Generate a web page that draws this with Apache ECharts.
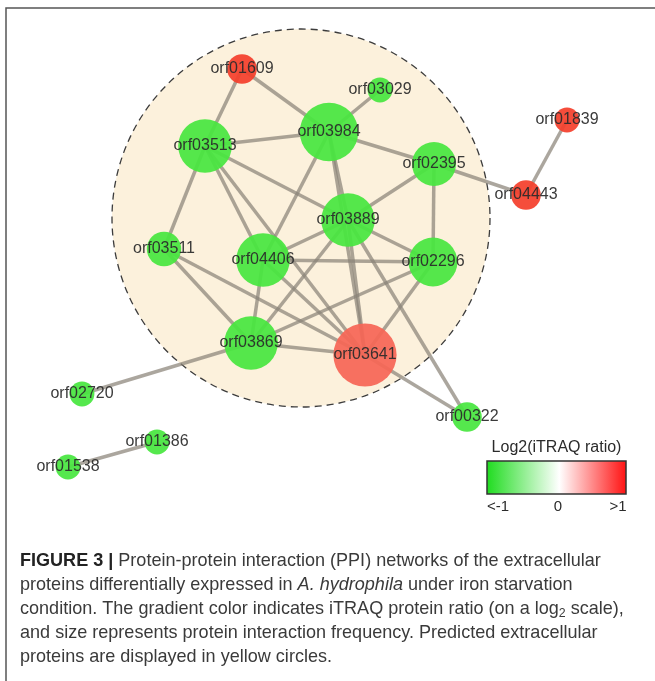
<!DOCTYPE html>
<html>
<head>
<meta charset="utf-8">
<script src="https://cdn.jsdelivr.net/npm/echarts@6/dist/echarts.min.js"></script>
<style>
html,body{margin:0;padding:0;background:#fff;}
#chart{width:655px;height:681px;}
</style>
</head>
<body>
<div id="chart"></div>
<script>
// ---- data ----
const nodeNames = ['orf01609','orf03029','orf03984','orf03513','orf02395','orf01839','orf04443','orf03889','orf03511','orf04406','orf02296','orf03869','orf03641','orf02720','orf00322','orf01386','orf01538'];
// layout coordinates of the network (data space of the hidden axes)
const nodeX = [242,380,329,205,434,567,526,348,164,263,433,251,365,82,467,157,68];
const nodeY = [69,90,132,146,164,120,195,220,249,260,262,343,355,394,417,442,467];
// log2(iTRAQ ratio)
const log2Ratio = [1.5,-1.5,-1.5,-1.5,-1.5,1.5,1.5,-1.5,-1.5,-1.5,-1.5,-1.5,0.8,-1.5,-1.5,-1.5,-1.5];
// interaction frequency (node size)
const frequency = [2,1,8,7,5,1,2,7,3,7,6,7,9,1,2,1,1];
const edges = [
  ['orf01609','orf03513'],['orf01609','orf03984'],['orf03029','orf03984'],
  ['orf03984','orf03513'],['orf03984','orf02395'],['orf03984','orf03889'],
  ['orf03984','orf04406'],['orf03984','orf03641'],
  ['orf03513','orf03511'],['orf03513','orf03889'],['orf03513','orf04406'],['orf03513','orf03641'],
  ['orf02395','orf04443'],['orf02395','orf03889'],['orf02395','orf02296'],
  ['orf01839','orf04443'],
  ['orf03889','orf04406'],['orf03889','orf02296'],['orf03889','orf03869'],['orf03889','orf03641'],['orf03889','orf00322'],
  ['orf03511','orf03641'],['orf03511','orf03869'],
  ['orf04406','orf02296'],['orf04406','orf03869'],['orf04406','orf03641'],
  ['orf02296','orf03869'],['orf02296','orf03641'],
  ['orf03869','orf03641'],['orf03869','orf02720'],
  ['orf03641','orf00322'],
  ['orf01386','orf01538']
];
// predicted extracellular region (center x, center y, radius) in data space
const extracellularCircle = [[301,218,189]];
const legendTitle = 'Log2(iTRAQ ratio)';
const legendTicks = ['<-1','0','>1'];
const captionLines = [
  '{b|FIGURE 3 |} Protein-protein interaction (PPI) networks of the extracellular',
  'proteins differentially expressed in {i|A. hydrophila} under iron starvation',
  'condition. The gradient color indicates iTRAQ protein ratio (on a log{s|2} scale),',
  'and size represents protein interaction frequency. Predicted extracellular',
  'proteins are displayed in yellow circles.'
];

// ---- styles ----
const nodeColors = ['#48e640','#ffffff','#f4402c'];
const legendColors = ['#1edc1e','#ffffff','#ff1010'];
const labelFont = '"Liberation Sans", Arial, sans-serif';

const chart = echarts.init(document.getElementById('chart'), null, {renderer:'canvas'});

function colorFor(v){
  const t = (Math.max(-1, Math.min(1, v)) + 1) / 2;
  return echarts.color.lerp(t, nodeColors);
}

const nodes = nodeNames.map((n,i)=>({
  name: n,
  value: [nodeX[i], nodeY[i]],
  symbolSize: 20 + 4.8 * frequency[i],
  itemStyle: {color: colorFor(log2Ratio[i]), opacity: 0.93}
}));
const links = edges.map(e=>({source:e[0], target:e[1]}));

const legendX0 = 487, legendX1 = 626, legendY = 461, legendH = 33;

const graphics = [
  {type:'polyline', shape:{points:[[6,681],[6,8],[655,8]]}, style:{stroke:'#555', lineWidth:1.5, fill:null}, silent:true},
  {type:'text', x:(legendX0+legendX1)/2, y:448, style:{text:legendTitle, font:'16px '+labelFont, fill:'#2b2b2b', textAlign:'center', textVerticalAlign:'middle'}},
  {type:'rect', shape:{x:legendX0, y:legendY, width:legendX1-legendX0, height:legendH},
    style:{fill:new echarts.graphic.LinearGradient(0,0,1,0,[
      {offset:0,color:legendColors[0]},{offset:0.52,color:legendColors[1]},{offset:1,color:legendColors[2]}]),
      stroke:'#333', lineWidth:1.5}},
  {type:'text', x:498, y:507, style:{text:legendTicks[0], font:'15px '+labelFont, fill:'#2b2b2b', textAlign:'center', textVerticalAlign:'middle'}},
  {type:'text', x:558, y:507, style:{text:legendTicks[1], font:'15px '+labelFont, fill:'#2b2b2b', textAlign:'center', textVerticalAlign:'middle'}},
  {type:'text', x:618, y:507, style:{text:legendTicks[2], font:'15px '+labelFont, fill:'#2b2b2b', textAlign:'center', textVerticalAlign:'middle'}}
];
captionLines.forEach((line,i)=>{
  graphics.push({type:'text', x:20, y:561 + i*24, scaleX:0.95, style:{
    text:line, fill:'#3a3a3a', fontSize:19, fontFamily:labelFont, textVerticalAlign:'middle', lineHeight:22,
    rich:{
      b:{fontWeight:'bold', fontSize:19, fontFamily:labelFont, fill:'#222', lineHeight:22},
      i:{fontStyle:'italic', fontSize:19, fontFamily:labelFont, fill:'#3a3a3a', lineHeight:22},
      s:{fontSize:13, fontFamily:labelFont, fill:'#3a3a3a', verticalAlign:'bottom', lineHeight:14}
    }
  }});
});

chart.setOption({
  animation:false,
  backgroundColor:'#ffffff',
  grid:{left:0, right:0, top:0, bottom:0},
  xAxis:{type:'value', min:0, max:655, show:false},
  yAxis:{type:'value', min:0, max:681, inverse:true, show:false},
  graphic: graphics,
  series:[
    {
      type:'custom',
      coordinateSystem:'cartesian2d',
      z:1,
      silent:true,
      data: extracellularCircle,
      renderItem:function(params, api){
        const c = api.coord([api.value(0), api.value(1)]);
        const r = api.size([api.value(2), 0])[0];
        return {type:'circle', shape:{cx:c[0], cy:c[1], r:r},
          style:{fill:'#fcf1dc', stroke:'#3c3c3c', lineWidth:1.3, lineDash:[7,5]}};
      }
    },
    {
      type:'graph',
      coordinateSystem:'cartesian2d',
      z:2,
      layout:'none',
      data: nodes,
      links: links,
      symbol:'circle',
      label:{show:true, position:'inside', fontSize:16, color:'#2b2b2b', fontFamily:labelFont},
      lineStyle:{color:'#8a8478', width:3.5, opacity:0.72, curveness:0},
      emphasis:{disabled:true}
    }
  ]
});
</script>
</body>
</html>
